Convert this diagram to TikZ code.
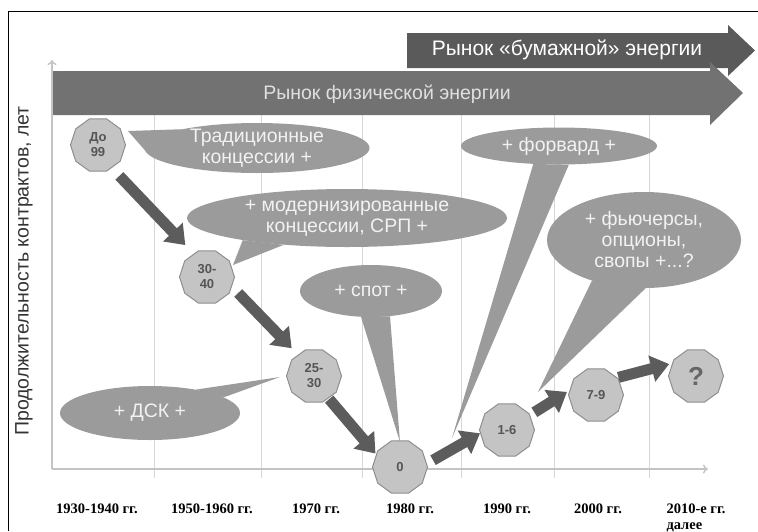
\documentclass[tikz,border=0pt]{standalone}
\usepackage{fontspec}
\setmainfont{Liberation Serif}
\setsansfont{Liberation Sans}
\usetikzlibrary{shapes.geometric,arrows.meta}

\definecolor{octfill}{HTML}{C4C4C4}
\definecolor{octdraw}{HTML}{8E8E8E}
\definecolor{octtext}{HTML}{555555}
\definecolor{bubblefill}{HTML}{9B9B9B}
\definecolor{bubbletext}{HTML}{F2F2F2}
\definecolor{trendgray}{HTML}{5C5C5C}
\definecolor{physgray}{HTML}{727272}
\definecolor{papergray}{HTML}{5A5A5A}
\definecolor{gridgray}{HTML}{D6D6D6}
\definecolor{axisgray}{HTML}{C4C4C4}

\tikzset{
  epoch/.style={regular polygon, regular polygon sides=10,
    minimum size=55pt, inner sep=0pt, fill=octfill, draw=octdraw, line width=1pt,
    text=octtext, font=\sffamily\bfseries\fontsize{13}{15}\selectfont, align=center},
  bubble/.style={ellipse, inner sep=0pt, fill=bubblefill, text=bubbletext,
    font=\sffamily\fontsize{19.5}{21}\selectfont, align=center},
  tail/.style={fill=bubblefill},
  trend/.style={draw=trendgray, line width=11pt, -{Triangle[length=18pt,width=26pt]}},
  grid/.style={draw=gridgray, line width=0.8pt},
  axis/.style={draw=axisgray, line width=1.4pt, -{To[length=5pt,width=9pt]}},
  year/.style={font=\bfseries\fontsize{14.5}{15}\selectfont, anchor=base}
}

\begin{document}
\begin{tikzpicture}[x=1pt,y=-1pt]
  \useasboundingbox (0,0) rectangle (758,531);
  % frame
  \draw[line width=1pt] (8,531) -- (8,11) -- (758,11);

  % grid and axes
  \draw[grid] (154,72) -- (154,478);
  \draw[grid] (261,72) -- (261,478);
  \draw[grid] (362,72) -- (362,478);
  \draw[grid] (461,72) -- (461,478);
  \draw[grid] (554,72) -- (554,478);
  \draw[grid] (649,72) -- (649,478);
  \draw[axis] (52,469) -- (52,60);
  \draw[axis] (52,469) -- (708,469);

  \node[rotate=90, font=\sffamily\fontsize{19.5}{22}\selectfont, text=black!80] (ylabel) at (24,271)
    {Продолжительность контрактов, лет};

  % market arrows
  \fill[papergray] (407,33) -- (728,33) -- (728,25) -- (755,50.5) -- (728,76) -- (728,68) -- (407,68) -- cycle;
  \node[font=\sffamily\fontsize{21}{24}\selectfont, text=white] (paper) at (567,50) {Рынок «бумажной» энергии};
  \fill[physgray] (53,71) -- (710,71) -- (710,62) -- (743,93) -- (710,125) -- (710,115) -- (53,115) -- cycle;
  \node[font=\sffamily\fontsize{19.5}{22}\selectfont, text=white!88!black] (phys) at (387,94) {Рынок физической энергии};

  % callouts
  \node[bubble, minimum width=225pt, minimum height=50pt, inner ysep=-7pt] (trad) at (257,148)
    {Традиционные\\концессии +};
  \coordinate (trad tip) at (128,131);
  \fill[tail] (trad.166) -- (trad tip) -- (trad.181) -- cycle;

  \node[bubble, minimum width=320pt, minimum height=58pt, inner ysep=-3pt] (modern) at (347,218)
    {+ модернизированные\\концессии, СРП +};
  \coordinate (modern tip) at (233,265);
  \fill[tail] (modern.192) -- (modern tip) -- (modern.203) -- cycle;

  \node[bubble, minimum width=142pt, minimum height=52pt] (spot) at (371,291) {+ спот +};
  \coordinate (spot tip) at (400,442);
  \fill[tail] (spot.249) -- (spot tip) -- (spot.307) -- cycle;

  \node[bubble, minimum width=180pt, minimum height=54pt] (dsk) at (150,413) {+ ДСК +};
  \coordinate (dsk tip) at (280,377);
  \fill[tail] (dsk.27) -- (dsk tip) -- (dsk.12) -- cycle;

  \node[bubble, minimum width=196pt, minimum height=37pt] (forward) at (559,146) {+ форвард +};
  \coordinate (forward tip) at (452,438);
  \fill[tail] (forward.215) -- (forward tip) -- (forward.298) -- cycle;

  \node[bubble, minimum width=194pt, minimum height=96pt, inner ysep=-3pt] (futures) at (644,240)
    {+ фьючерсы,\\опционы,\\свопы +...?};
  \coordinate (futures tip) at (538,392);
  \fill[tail] (futures.218) -- (futures tip) -- (futures.272) -- cycle;

  % contract terms
  \node[epoch] (d99) at (98,145) {До\\99};
  \node[epoch] (c3040) at (207,277) {30-\\40};
  \node[epoch] (c2530) at (314,376) {25-\\30};
  \node[epoch] (c0) at (400,467) {0};
  \node[epoch] (c16) at (507,430) {1-6};
  \node[epoch] (c79) at (596,395) {7-9};
  \node[epoch, font=\sffamily\bfseries\fontsize{26}{26}\selectfont, text=black!60] (cq) at (696,376) {?};

  \draw[trend, shorten <=11pt, shorten >=12pt] (d99.-59) -- (c3040.120);
  \draw[trend, shorten <=9pt, shorten >=9pt] (c3040.-21) -- (c2530.127);
  \draw[trend, shorten <=1pt, shorten >=1pt] (c2530.-57) -- (c0.152);
  \draw[trend, shorten <=7pt] (c0.7) -- (c16.187);
  \draw[trend, shorten <=5pt, shorten >=3pt] (c16.33) -- (c79.170);
  \draw[trend, shorten <=1pt, shorten >=3pt] (c79.39) -- (cq.152);

  % periods
  \node[year] (y30) at (97,513) {1930-1940 гг.};
  \node[year] (y50) at (212,513) {1950-1960 гг.};
  \node[year] (y70) at (316,513) {1970 гг.};
  \node[year] (y80) at (410,513) {1980 гг.};
  \node[year] (y90) at (507,513) {1990 гг.};
  \node[year] (y00) at (598,513) {2000 гг.};
  \node[year, anchor=base west] (y10) at (663,513) {2010-е гг.};
  \node[year, anchor=base west] (later) at (663,529) {далее};
\end{tikzpicture}
\end{document}
